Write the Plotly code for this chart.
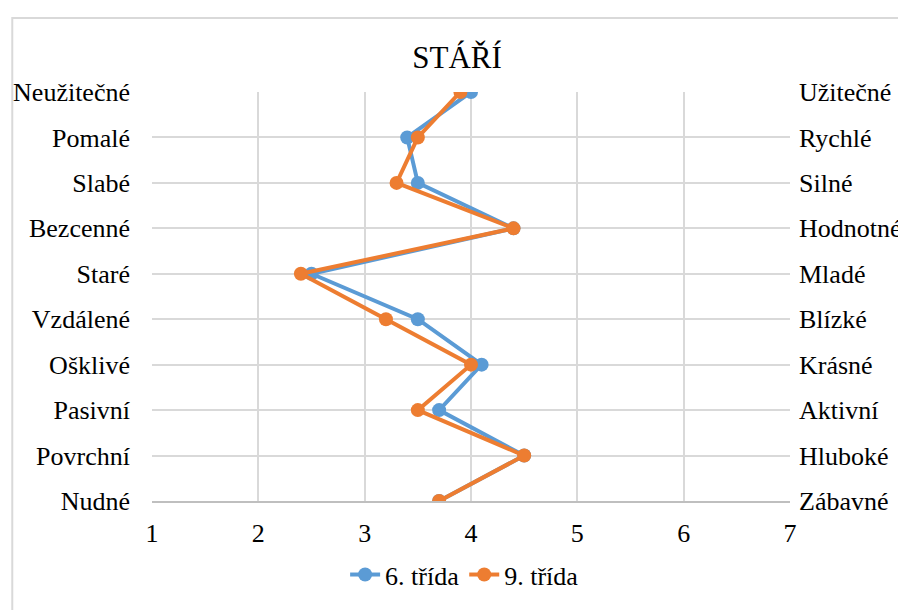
import plotly.graph_objects as go

# Semantic differential pairs (left / right pole), top to bottom
left_labels = ['Neužitečné', 'Pomalé', 'Slabé', 'Bezcenné', 'Staré',
               'Vzdálené', 'Ošklivé', 'Pasivní', 'Povrchní', 'Nudné']
right_labels = ['Užitečné', 'Rychlé', 'Silné', 'Hodnotné', 'Mladé',
                'Blízké', 'Krásné', 'Aktivní', 'Hluboké', 'Zábavné']

grade6 = [4.0, 3.4, 3.5, 4.4, 2.5, 3.5, 4.1, 3.7, 4.5, 3.7]
grade9 = [3.9, 3.5, 3.3, 4.4, 2.4, 3.2, 4.0, 3.5, 4.5, 3.7]

x_ticks = [1, 2, 3, 4, 5, 6, 7]

BLUE = '#5B9BD5'
ORANGE = '#ED7D31'
GRID = '#D9D9D9'
FONT = 'Liberation Serif, Times New Roman, serif'

# the page body adds an 8px offset, so the figure is 8px smaller than the window
W, H = 898, 602

fig = go.Figure()

fig.add_trace(go.Scatter(
    x=grade6, y=left_labels,
    name='6. třída',
    mode='lines+markers',
    line=dict(color=BLUE, width=4),
    marker=dict(color=BLUE, size=14),
))
fig.add_trace(go.Scatter(
    x=grade9, y=left_labels,
    name='9. třída',
    mode='lines+markers',
    line=dict(color=ORANGE, width=4),
    marker=dict(color=ORANGE, size=14),
))

# invisible trace so the right-hand axis gets its categories
fig.add_trace(go.Scatter(
    x=grade6, y=right_labels,
    yaxis='y2',
    mode='markers',
    marker=dict(opacity=0),
    showlegend=False,
    hoverinfo='skip',
))

fig.update_layout(
    width=W, height=H,
    margin=dict(l=143.5, r=116, t=83.5, b=102),
    paper_bgcolor='white',
    plot_bgcolor='white',
    font=dict(family=FONT, size=26, color='black'),
    title=dict(
        text='STÁŘÍ',
        font=dict(family=FONT, size=31, color='black'),
        x=0.5, xanchor='center',
        y=1 - 49 / H, yanchor='middle', yref='container',
    ),
    xaxis=dict(
        range=[1, 7],
        tickvals=x_ticks,
        showgrid=True, gridcolor=GRID, gridwidth=1.5,
        zeroline=False,
        showline=True, linecolor='#BFBFBF', linewidth=1.5,
        ticks='', ticklabelstandoff=8,
        automargin=False,
    ),
    yaxis=dict(
        type='category',
        categoryorder='array', categoryarray=left_labels,
        range=[9, 0],
        showgrid=True, gridcolor=GRID, gridwidth=1.5,
        zeroline=False, showline=False,
        ticks='', ticklabelstandoff=21,
        automargin=False,
    ),
    yaxis2=dict(
        type='category',
        categoryorder='array', categoryarray=right_labels,
        range=[9, 0],
        overlaying='y', side='right',
        showgrid=False, zeroline=False, showline=False,
        ticks='', ticklabelstandoff=8,
        automargin=False,
    ),
    legend=dict(
        orientation='h',
        x=0.49, xanchor='center',
        y=-0.18, yanchor='middle',
        font=dict(family=FONT, size=26),
    ),
    shapes=[dict(
        type='rect', xref='paper', yref='paper',
        x0=-0.219, x1=1.25, y0=-0.3, y1=1.181,
        line=dict(color=GRID, width=2),
        layer='below',
    )],
)

fig.write_html('out.html')
